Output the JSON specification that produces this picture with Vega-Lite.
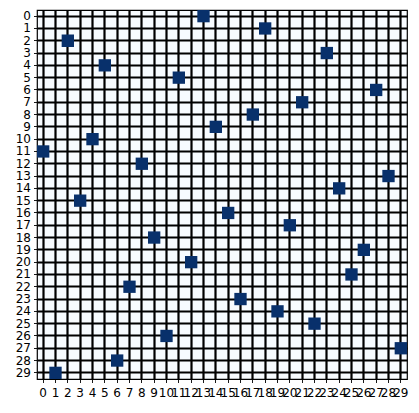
{
  "$schema": "https://vega.github.io/schema/vega-lite/v6.json",
  "width": 370,
  "height": 369,
  "autosize": {"type": "none"},
  "padding": {"left": 37, "top": 10, "right": 12, "bottom": 34},
  "background": "white",
  "config": {
    "view": {"fill": "#f7fbff", "stroke": "black", "strokeWidth": 1.2},
    "axis": {
      "labelFont": "DejaVu Sans",
      "labelFontSize": 12,
      "labelColor": "black",
      "tickColor": "black",
      "tickSize": 3.5,
      "tickWidth": 0.9,
      "domain": false,
      "title": null,
      "grid": true,
      "gridColor": "black",
      "gridWidth": 2.2,
      "gridOpacity": 1,
      "bandPosition": 0.5,
      "zindex": 1,
      "labelAngle": 0
    }
  },
  "data": {
    "values": [
      {"row": 0, "col": 13}, {"row": 1, "col": 18}, {"row": 2, "col": 2},
      {"row": 3, "col": 23}, {"row": 4, "col": 5}, {"row": 5, "col": 11},
      {"row": 6, "col": 27}, {"row": 7, "col": 21}, {"row": 8, "col": 17},
      {"row": 9, "col": 14}, {"row": 10, "col": 4}, {"row": 11, "col": 0},
      {"row": 12, "col": 8}, {"row": 13, "col": 28}, {"row": 14, "col": 24},
      {"row": 15, "col": 3}, {"row": 16, "col": 15}, {"row": 17, "col": 20},
      {"row": 18, "col": 9}, {"row": 19, "col": 26}, {"row": 20, "col": 12},
      {"row": 21, "col": 25}, {"row": 22, "col": 7}, {"row": 23, "col": 16},
      {"row": 24, "col": 19}, {"row": 25, "col": 22}, {"row": 26, "col": 10},
      {"row": 27, "col": 29}, {"row": 28, "col": 6}, {"row": 29, "col": 1}
    ]
  },
  "mark": {"type": "rect", "color": "#08306b"},
  "encoding": {
    "x": {
      "field": "col",
      "type": "ordinal",
      "scale": {"domain": [0,1,2,3,4,5,6,7,8,9,10,11,12,13,14,15,16,17,18,19,20,21,22,23,24,25,26,27,28,29], "paddingInner": 0, "paddingOuter": 0},
      "axis": {"labelOverlap": false, "labelPadding": 5}
    },
    "y": {
      "field": "row",
      "type": "ordinal",
      "scale": {"domain": [0,1,2,3,4,5,6,7,8,9,10,11,12,13,14,15,16,17,18,19,20,21,22,23,24,25,26,27,28,29], "paddingInner": 0, "paddingOuter": 0},
      "axis": {"labelOverlap": false, "labelPadding": 3}
    }
  }
}
